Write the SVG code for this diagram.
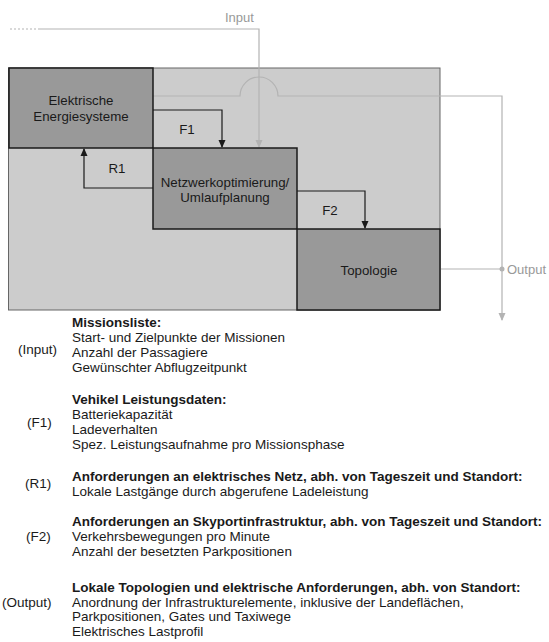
<svg xmlns="http://www.w3.org/2000/svg" width="549" height="642" viewBox="0 0 549 642">
<defs>
<style>
text{font-family:"Liberation Sans",Arial,sans-serif;fill:#1a1a1a}
.lbl{font-size:13.3px;text-anchor:middle}
.gt{fill:#999;font-size:13px}
.box{fill:#999;stroke:#1a1a1a;stroke-width:1.5}
.k{fill:none;stroke:#1a1a1a;stroke-width:1.2}
.g{fill:none;stroke:#b3b3b3;stroke-width:1.2}
.t{font-size:13.5px}
.b{font-size:13.5px;font-weight:bold}
</style>
<marker id="ak" markerWidth="8" markerHeight="8" refX="7" refY="4" orient="auto" markerUnits="userSpaceOnUse"><path d="M0,0.5 L8,4 L0,7.5 Z" fill="#1a1a1a"/></marker>
<marker id="ag" markerWidth="8" markerHeight="8" refX="7" refY="4" orient="auto" markerUnits="userSpaceOnUse"><path d="M0,0.5 L8,4 L0,7.5 Z" fill="#b3b3b3"/></marker>
</defs>
<rect id="frame" x="8.5" y="68" width="431.5" height="242" fill="#ccc" stroke="#666" stroke-width="1"/>
<g id="connectors">
<path class="g" d="M10,29 H38" stroke-dasharray="2,2"/>
<path class="g" d="M38,29 H259 V147" marker-end="url(#ag)"/>
<path class="g" d="M153,96 H240 A19,19 0 0 1 278,96 H502 V320" marker-end="url(#ag)"/>
<path class="g" d="M440,269 H502"/>
<circle cx="502" cy="269" r="2.5" fill="#b3b3b3"/>
<path class="k" d="M153,110 H222 V147" marker-end="url(#ak)"/>
<path class="k" d="M153,188 H84 V149" marker-end="url(#ak)"/>
<path class="k" d="M297,191 H365 V228" marker-end="url(#ak)"/>
<text class="lbl" x="187" y="134">F1</text>
<text class="lbl" x="117" y="173">R1</text>
<text class="lbl" x="330" y="215">F2</text>
<text class="gt" x="225" y="22">Input</text>
<text class="gt" x="507" y="274">Output</text>
</g>
<g id="energie">
<rect class="box" x="9" y="68" width="144" height="80"/>
<text class="lbl" x="81" y="105">Elektrische</text>
<text class="lbl" x="81" y="121">Energiesysteme</text>
</g>
<g id="netzwerk">
<rect class="box" x="153" y="148" width="144" height="81"/>
<text class="lbl" x="225" y="187">Netzwerkoptimierung/</text>
<text class="lbl" x="225" y="202">Umlaufplanung</text>
</g>
<g id="topologie">
<rect class="box" x="297" y="229" width="143" height="81"/>
<text class="lbl" x="369" y="275">Topologie</text>
</g>
<g id="legend">
<text class="t" x="18" y="354">(Input)</text>
<text class="b" x="72" y="327">Missionsliste:</text>
<text class="t" x="72" y="342">Start- und Zielpunkte der Missionen</text>
<text class="t" x="72" y="357">Anzahl der Passagiere</text>
<text class="t" x="72" y="372">Gewünschter Abflugzeitpunkt</text>
<text class="t" x="27" y="427">(F1)</text>
<text class="b" x="72" y="404">Vehikel Leistungsdaten:</text>
<text class="t" x="72" y="419">Batteriekapazität</text>
<text class="t" x="72" y="434">Ladeverhalten</text>
<text class="t" x="72" y="449">Spez. Leistungsaufnahme pro Missionsphase</text>
<text class="t" x="25" y="488">(R1)</text>
<text class="b" x="72" y="481">Anforderungen an elektrisches Netz, abh. von Tageszeit und Standort:</text>
<text class="t" x="72" y="496">Lokale Lastgänge durch abgerufene Ladeleistung</text>
<text class="t" x="26" y="541">(F2)</text>
<text class="b" x="72" y="526">Anforderungen an Skyportinfrastruktur, abh. von Tageszeit und Standort:</text>
<text class="t" x="72" y="541">Verkehrsbewegungen pro Minute</text>
<text class="t" x="72" y="556">Anzahl der besetzten Parkpositionen</text>
<text class="t" x="2" y="607">(Output)</text>
<text class="b" x="72" y="592">Lokale Topologien und elektrische Anforderungen, abh. von Standort:</text>
<text class="t" x="72" y="607">Anordnung der Infrastrukturelemente, inklusive der Landeflächen,</text>
<text class="t" x="72" y="621">Parkpositionen, Gates und Taxiwege</text>
<text class="t" x="72" y="636">Elektrisches Lastprofil</text>
</g>
</svg>
